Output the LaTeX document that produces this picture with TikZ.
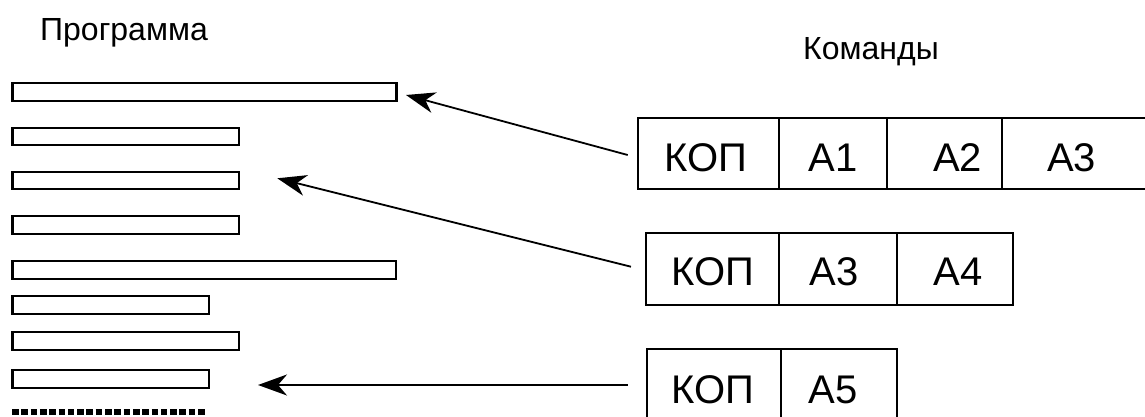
\documentclass[tikz,border=0pt]{standalone}
\usepackage{fontspec}
\setmainfont{Liberation Sans}
\usetikzlibrary{arrows.meta}
\begin{document}
\begin{tikzpicture}[x=0.5pt,y=-0.5pt,
  bar/.style={draw, line width=1.1pt},
  cellbox/.style={draw, line width=1pt},
  lbl/.style={anchor=base, inner sep=0pt, font=\fontsize{20}{22}\selectfont},
  head/.style={anchor=base, inner sep=0pt, font=\fontsize{16}{18}\selectfont},
  arr/.style={line width=0.9pt, -{Stealth[length=14.5pt,width=10.5pt,inset=4.5pt]}}]
\clip (0,0) rectangle (1145,417);
% headers
\node[head] (prog) at (124,40.7) {Программа};
\node[head] (cmds) at (871,59.3) {Команды};
% program bars
\draw[bar] (12.5,83.2) rectangle (396.5,100.8);
\draw[bar] (12.5,128.2) rectangle (238.7,144.8);
\draw[bar] (12.5,172.3) rectangle (238.7,189.3);
\draw[bar] (12.5,216.3) rectangle (238.7,233.7);
\draw[bar] (12.5,261) rectangle (396,278.7);
\draw[bar] (12.5,296) rectangle (209,314);
\draw[bar] (12.5,331.7) rectangle (238.7,349.7);
\draw[bar] (12.5,369.7) rectangle (209,388);
\draw[line width=3pt, dash pattern=on 3.3pt off 1.35pt] (12,411.7) -- (207,411.7);
% command 1
\draw[cellbox] (638.3,118.3) rectangle (1160,189);
\draw[cellbox] (779.3,118.3) -- (779.3,189);
\draw[cellbox] (886.7,118.3) -- (886.7,189);
\draw[cellbox] (1001.7,118.3) -- (1001.7,189);
\node[lbl] (c1a) at (705.5,171) {КОП};
\node[lbl] (c1b) at (833,171) {А1};
\node[lbl] (c1c) at (957.5,171) {А2};
\node[lbl] (c1d) at (1071.7,171) {А3};
% command 2
\draw[cellbox] (646,233.3) rectangle (1013.3,305);
\draw[cellbox] (779.3,233.3) -- (779.3,305);
\draw[cellbox] (896.7,233.3) -- (896.7,305);
\node[lbl] (c2a) at (713.3,285.7) {КОП};
\node[lbl] (c2b) at (834,285.7) {А3};
\node[lbl] (c2c) at (958,285.7) {А4};
% command 3
\draw[cellbox] (646.7,349.3) rectangle (896.7,440);
\draw[cellbox] (781,349.3) -- (781,440);
\node[lbl] (c3a) at (713.3,403) {КОП};
\node[lbl] (c3b) at (833,403) {А5};
% arrows
\coordinate (s1) at (627.7,155);
\coordinate (t1) at (406,95);
\coordinate (s2) at (631,266.7);
\coordinate (t2) at (277.3,178.3);
\coordinate (s3) at (627.7,385);
\coordinate (t3) at (258,385);
\draw[arr] (s1) -- (t1);
\draw[arr] (s2) -- (t2);
\draw[arr] (s3) -- (t3);
\end{tikzpicture}
\end{document}
